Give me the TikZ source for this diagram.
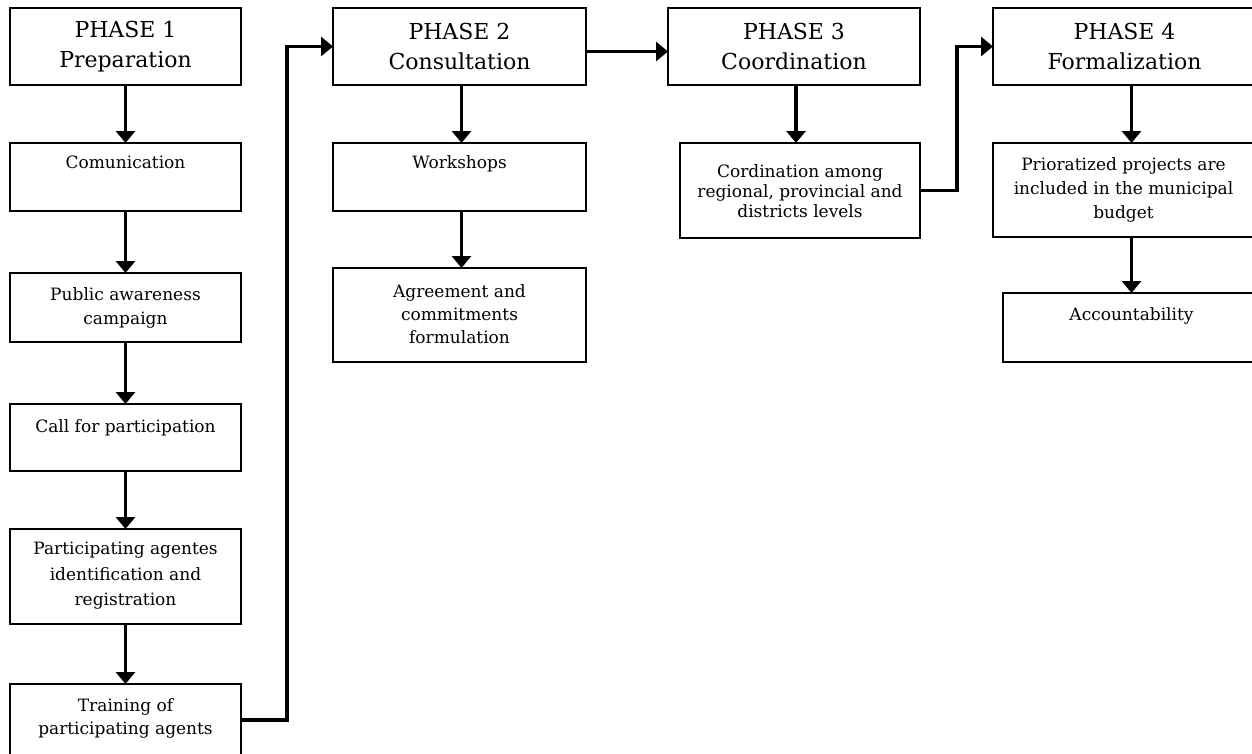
\documentclass[tikz,border=0pt]{standalone}
\usepackage{fontspec}
\setmainfont{DejaVu Serif}
\usetikzlibrary{fit,arrows.meta}
\begin{document}
\begin{tikzpicture}[x=1pt,y=-1pt,
  box/.style={draw, line width=2.4pt, inner sep=0pt, outer sep=0pt},
  head/.style={align=center, font=\fontsize{22}{30}\selectfont, inner sep=0pt},
  sub/.style={align=center, font=\fontsize{17}{24}\selectfont, inner sep=0pt, anchor=north},
  arr/.style={line width=3.4pt, -{Triangle[width=19pt,length=12pt]}}]
\useasboundingbox (0,0) rectangle (1252,753);
% Phase 1 column
\node[box, fit={(10,8) (241,85)}] (p1) {};
\node[box, fit={(10,143) (241,211)}] (c1) {};
\node[box, fit={(10,273) (241,342)}] (c2) {};
\node[box, fit={(10,404) (241,471)}] (c3) {};
\node[box, fit={(10,529) (241,624)}] (c4) {};
\node[box, fit={(10,684) (241,760)}] (c5) {};
% Phase 2 column
\node[box, fit={(333,8) (586,85)}] (p2) {};
\node[box, fit={(333,143) (586,211)}] (w1) {};
\node[box, fit={(333,268) (586,362)}] (w2) {};
% Phase 3 column
\node[box, fit={(668,8) (920,85)}] (p3) {};
\node[box, fit={(680,143) (920,238)}] (co) {};
% Phase 4 column
\node[box, fit={(993,8) (1254,85)}] (p4) {};
\node[box, fit={(993,143) (1254,237)}] (pr) {};
\node[box, fit={(1003,293) (1254,362)}] (ac) {};
% texts
\node[head] (p1t) at (p1.center) {PHASE 1\\Preparation};
\node[head] (p2t) at (p2.center) {PHASE 2\\Consultation};
\node[head] (p3t) at (p3.center) {PHASE 3\\Coordination};
\node[head] (p4t) at ([xshift=1pt]p4.center) {PHASE 4\\Formalization};
\node[sub] (c1t) at ([yshift=-13pt]c1.north) {Comunication};
\node[sub] (c2t) at ([yshift=-14pt]c2.north) {Public awareness\\campaign};
\node[sub] (c3t) at ([yshift=-15pt]c3.north) {Call for participation};
\node[sub, font=\fontsize{17}{25.5}\selectfont] (c4t) at ([yshift=-13pt]c4.north) {Participating agentes\\identification and\\registration};
\node[sub, font=\fontsize{17}{23}\selectfont] (c5t) at ([yshift=-14pt]c5.north) {Training of\\participating agents};
\node[sub] (w1t) at ([yshift=-12pt]w1.north) {Workshops};
\node[sub, font=\fontsize{17}{23}\selectfont] (w2t) at ([yshift=-16pt]w2.north) {Agreement and\\commitments\\formulation};
\node[sub, font=\fontsize{17}{20}\selectfont] (cot) at ([yshift=-21pt]co.north) {Cordination among\\regional, provincial and\\districts levels};
\node[sub] (prt) at ([yshift=-14pt]pr.north) {Prioratized projects are\\included in the municipal\\budget};
\node[sub] (act) at ([yshift=-14pt,xshift=3pt]ac.north) {Accountability};
% junction points
\coordinate (j1) at (287,720);
\coordinate (j2) at (957,0);
% vertical arrows
\draw[arr] (p1.south) -- (c1.north);
\draw[arr] (c1.south) -- (c2.north);
\draw[arr] (c2.south) -- (c3.north);
\draw[arr] (c3.south) -- (c4.north);
\draw[arr] (c4.south) -- (c5.north);
\draw[arr] ([xshift=2pt]p2.south) -- ([xshift=2pt]w1.north);
\draw[arr] ([xshift=2pt]w1.south) -- ([xshift=2pt]w2.north);
\draw[arr] ([xshift=2pt]p3.south) -- ([xshift=2pt]p3.south |- co.north);
\draw[arr] ([xshift=8pt]p4.south) -- ([xshift=8pt]pr.north);
\draw[arr] ([xshift=8pt]pr.south) -- ([xshift=8pt]pr.south |- ac.north);
% elbow and horizontal connectors
\draw[arr] (c5.east |- j1) -- (j1) |- (p2.west);
\draw[arr] ([yshift=-5pt]p2.east) -- ([yshift=-5pt]p2.east -| p3.west);
\draw[arr] (co.east) -| (j2 |- p4.west) -- (p4.west);
\end{tikzpicture}
\end{document}
